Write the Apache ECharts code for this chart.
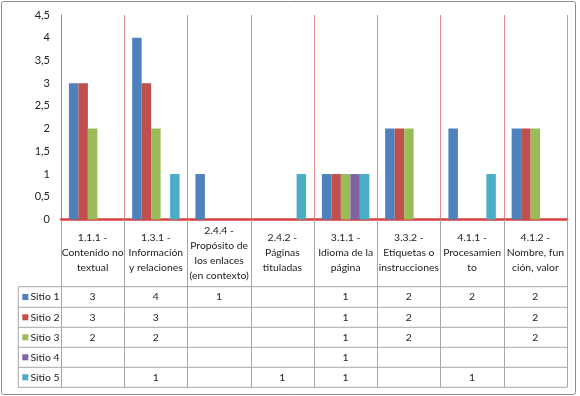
<!DOCTYPE html>
<html><head><meta charset="utf-8">
<script src="https://cdn.jsdelivr.net/npm/echarts@6/dist/echarts.min.js"></script>
<style>html,body{margin:0;padding:0;background:#fff}#c{width:580px;height:396px}</style>
</head><body><div id="c"></div>
<script>
const categories = [
  "1.1.1 -\nContenido no\ntextual",
  "1.3.1 -\nInformación\ny relaciones",
  "2.4.4 -\nPropósito de\nlos enlaces\n(en contexto)",
  "2.4.2 -\nPáginas\ntituladas",
  "3.1.1 -\nIdioma de la\npágina",
  "3.3.2 -\nEtiquetas o\ninstrucciones",
  "4.1.1 -\nProcesamien\nto",
  "4.1.2 -\nNombre, fun\nción, valor"
];
const seriesNames = ["Sitio 1", "Sitio 2", "Sitio 3", "Sitio 4", "Sitio 5"];
const sitio1 = [3, 4, 1, null, 1, 2, 2, 2];
const sitio2 = [3, 3, null, null, 1, 2, null, 2];
const sitio3 = [2, 2, null, null, 1, 2, null, 2];
const sitio4 = [null, null, null, null, 1, null, null, null];
const sitio5 = [null, 1, null, 1, 1, null, 1, null];
const yTicks = [0, 0.5, 1, 1.5, 2, 2.5, 3, 3.5, 4, 4.5];
const colors = ["#4F81BD", "#C0504D", "#9BBB59", "#8064A2", "#4BACC6"];
const allSeries = [sitio1, sitio2, sitio3, sitio4, sitio5];

const FONT = "Lato";
const FS = 10.4;
const plotL = 61, plotR = 567, plotT = 15, axisY = 219.5;
const rowLines = [286.7, 307.3, 327.3, 347.3, 367.3, 387.3];
const tableL = 18.3;

const chart = echarts.init(document.getElementById('c'), null, {renderer: 'canvas'});
const option = {
  animation: false,
  color: colors,
  textStyle: {fontFamily: FONT},
  grid: {left: plotL, right: 580 - plotR, top: plotT, bottom: 396 - axisY, containLabel: false},
  xAxis: {
    type: 'category', data: categories,
    axisLine: {show: true, lineStyle: {color: '#d9403f', width: 2.5}},
    axisTick: {show: true, length: rowLines[rowLines.length - 1] - axisY, lineStyle: {color: '#a6a6a6', width: 1}},
    splitLine: {show: true, lineStyle: {color: '#e68a8a', width: 1}},
    axisLabel: {interval: 0, margin: (rowLines[0] - axisY) / 2, verticalAlign: 'middle', lineHeight: 15,
      fontFamily: FONT, fontSize: FS, color: '#222', hideOverlap: false}
  },
  yAxis: {
    type: 'value', min: 0, max: 4.5, interval: 0.5,
    axisLine: {show: true, lineStyle: {color: '#8c8c8c'}},
    axisTick: {show: false},
    splitLine: {show: false},
    axisLabel: {margin: 11, fontFamily: FONT, fontSize: 11, color: '#222',
      formatter: v => String(yTicks.find(t => Math.abs(t - v) < 1e-9) ?? v).replace('.', ',')}
  },
  series: seriesNames.map((n, i) => ({
    name: n, type: 'bar', data: allSeries[i], barGap: '0%', barCategoryGap: '25%',
    itemStyle: {color: colors[i]}
  }))
};
chart.setOption(option);

// table: grid lines, legend keys and cell values
const g = [];
g.push({type: 'rect', shape: {x: 1.5, y: 1.5, width: 574, height: 393, r: 2},
  style: {fill: 'none', stroke: '#8c8c8c', lineWidth: 1}, silent: true});
rowLines.forEach(y => g.push({type: 'line', shape: {x1: tableL, y1: y, x2: plotR, y2: y},
  style: {stroke: '#a6a6a6', lineWidth: 1}, silent: true}));
g.push({type: 'line', shape: {x1: tableL, y1: rowLines[0], x2: tableL, y2: rowLines[rowLines.length - 1]},
  style: {stroke: '#a6a6a6', lineWidth: 1}, silent: true});
allSeries.forEach((arr, si) => {
  const yc = (rowLines[si] + rowLines[si + 1]) / 2;
  g.push({type: 'rect', shape: {x: 22.3, y: yc - 3, width: 6, height: 6},
    style: {fill: colors[si]}, silent: true});
  g.push({type: 'text', x: 30.5, y: yc, silent: true,
    style: {text: seriesNames[si], fontFamily: FONT, fontSize: FS, fill: '#222', align: 'left', verticalAlign: 'middle'}});
  arr.forEach((v, ci) => {
    if (v == null) return;
    const x = chart.convertToPixel({xAxisIndex: 0}, ci);
    g.push({type: 'text', x: x, y: yc, silent: true,
      style: {text: String(v), fontFamily: FONT, fontSize: FS, fill: '#222', align: 'center', verticalAlign: 'middle'}});
  });
});
chart.setOption({graphic: g});
</script></body></html>
